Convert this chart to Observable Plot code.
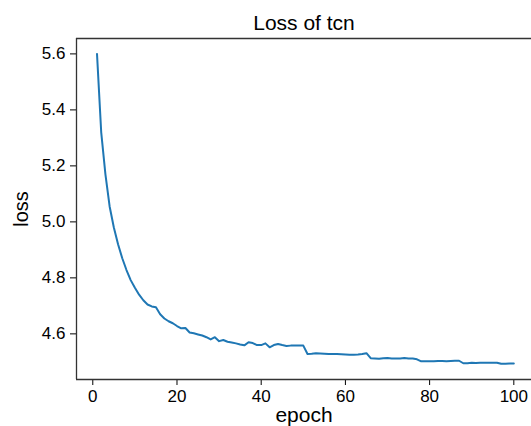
<!DOCTYPE html>
<html>
<head>
<meta charset="utf-8">
<script src="https://cdn.jsdelivr.net/npm/d3@7"></script>
<script src="https://cdn.jsdelivr.net/npm/@observablehq/plot@0.6"></script>
<style>
  html, body { margin: 0; padding: 0; background: #fff; }
  #chart svg { display: block; font-family: "Liberation Sans", Arial, sans-serif; }
</style>
</head>
<body>
<div id="chart"></div>
<script>
const title = "Loss of tcn";
const xLabel = "epoch";
const yLabel = "loss";
const xTicks = [0, 20, 40, 60, 80, 100];
const yTicks = [4.6, 4.8, 5.0, 5.2, 5.4, 5.6];
const epochs = d3.range(1, 101);
const loss = [
  5.600, 5.320, 5.170, 5.055, 4.980, 4.920, 4.870, 4.828, 4.792, 4.765,
  4.740, 4.720, 4.705, 4.698, 4.695, 4.670, 4.655, 4.645, 4.638, 4.628,
  4.620, 4.621, 4.605, 4.602, 4.598, 4.594, 4.588, 4.580, 4.588, 4.574,
  4.578, 4.572, 4.569, 4.566, 4.562, 4.559, 4.570, 4.567, 4.560, 4.560,
  4.566, 4.552, 4.560, 4.564, 4.560, 4.557, 4.558, 4.558, 4.558, 4.558,
  4.528, 4.529, 4.531, 4.530, 4.529, 4.528, 4.528, 4.528, 4.527, 4.526,
  4.525, 4.525, 4.526, 4.528, 4.531, 4.513, 4.512, 4.511, 4.513, 4.514,
  4.512, 4.512, 4.512, 4.514, 4.512, 4.512, 4.509, 4.502, 4.502, 4.502,
  4.502, 4.503, 4.503, 4.502, 4.503, 4.504, 4.504, 4.495, 4.495, 4.497,
  4.496, 4.497, 4.497, 4.497, 4.497, 4.497, 4.493, 4.493, 4.494, 4.494
];

const data = epochs.map((e, i) => ({epoch: e, loss: loss[i]}));

const xDomain = [-3.87, 104.2];
const yDomain = [4.437, 5.655];

const chart = Plot.plot({
  width: 531,
  height: 426,
  marginLeft: 76,
  marginRight: 0,
  marginTop: 38,
  marginBottom: 47,
  style: {fontFamily: "'Liberation Sans', Arial, sans-serif", background: "#fff", color: "#000"},
  x: {domain: xDomain},
  y: {domain: yDomain},
  marks: [
    Plot.axisX(xTicks, {tickSize: 6, tickPadding: 4, fontSize: 17, label: null, stroke: "#000"}),
    Plot.axisY(yTicks, {tickSize: 6, tickPadding: 5, fontSize: 17, label: null, tickFormat: d3.format(".1f"), stroke: "#000"}),
    Plot.ruleX([xDomain[0]], {stroke: "#333", strokeWidth: 1.3}),
    Plot.ruleY(yDomain, {stroke: "#333", strokeWidth: 1.3}),
    Plot.line(data, {x: "epoch", y: "loss", stroke: "#1f77b4", strokeWidth: 2}),
    Plot.text([title], {frameAnchor: "top", lineAnchor: "bottom", dy: -8.7, fontSize: 21, fill: "#000"}),
    Plot.text([xLabel], {frameAnchor: "bottom", lineAnchor: "bottom", dy: 42.7, fontSize: 21, fill: "#000"})
  ]
});

// y-axis title, rotated, placed beside the y axis
d3.select(chart).append("text")
  .attr("transform", "translate(28,209) rotate(-90)")
  .attr("text-anchor", "middle")
  .attr("font-size", 20)
  .attr("fill", "#000")
  .text(yLabel);

document.getElementById("chart").appendChild(chart);
</script>
</body>
</html>
